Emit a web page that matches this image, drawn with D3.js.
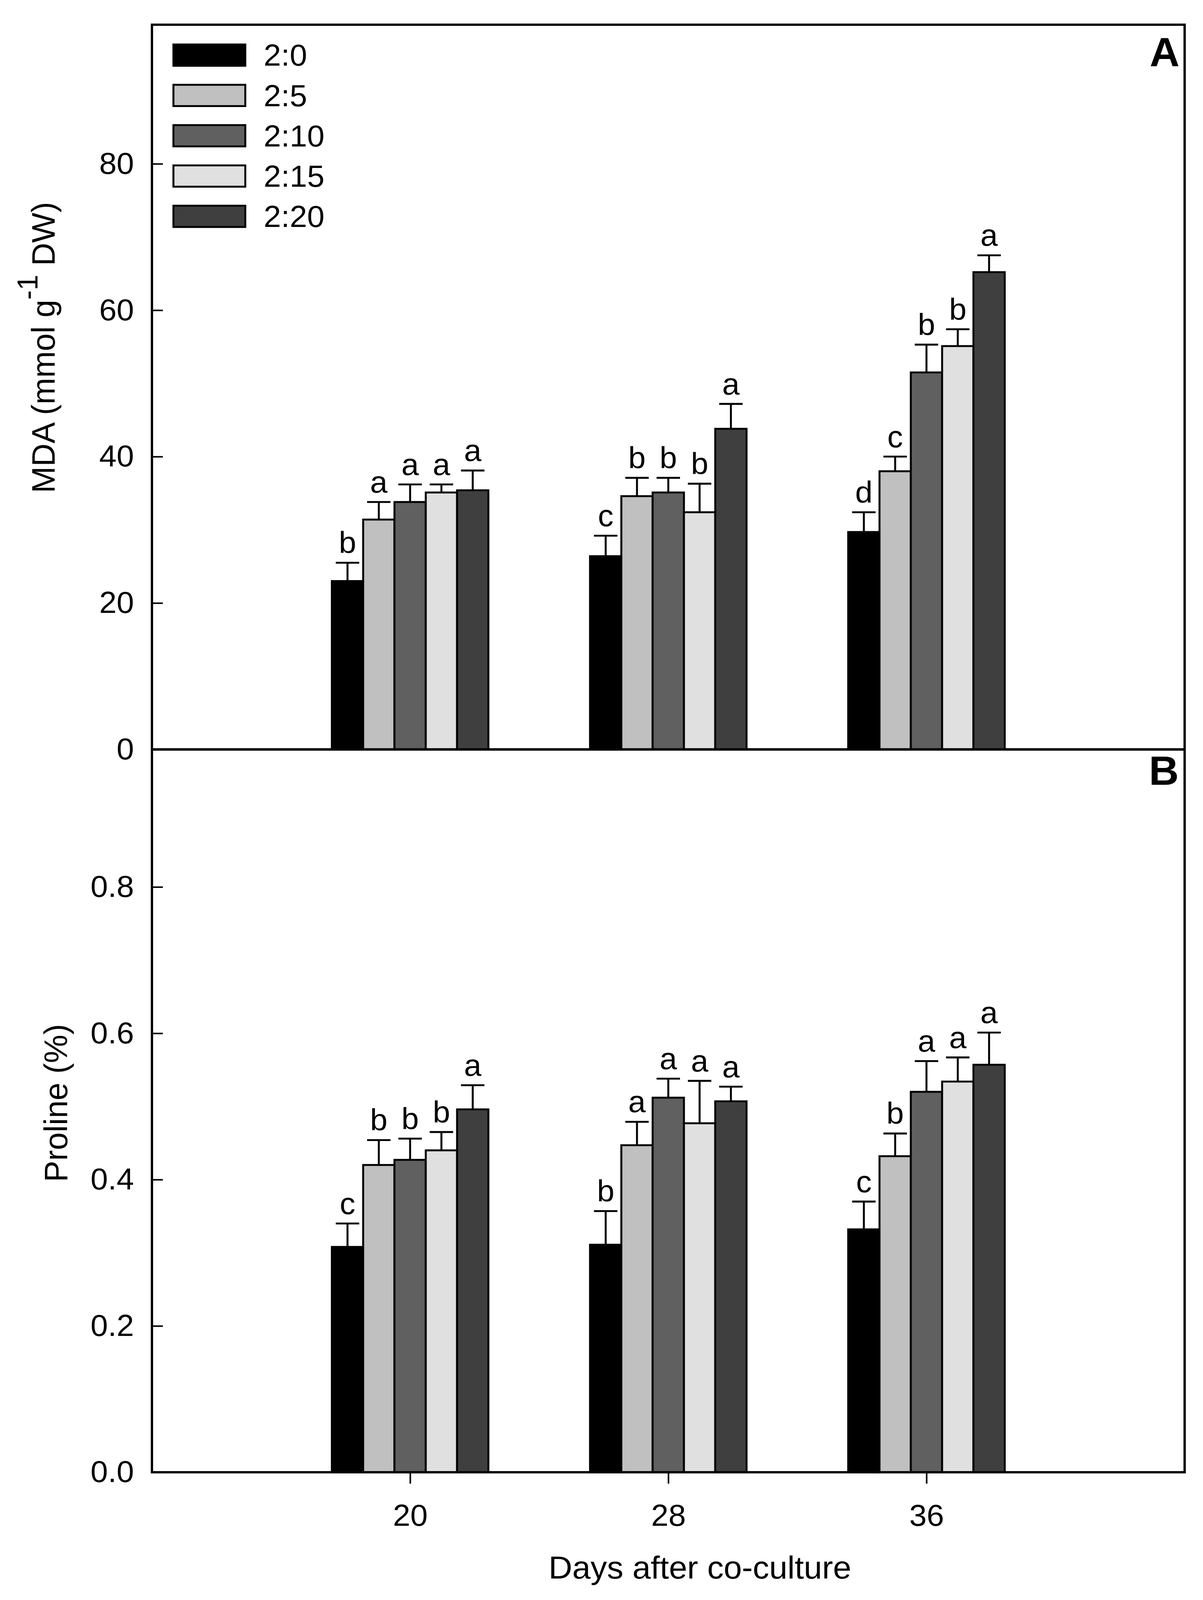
<!DOCTYPE html>
<html>
<head>
<meta charset="utf-8">
<script src="https://cdn.jsdelivr.net/npm/d3@7"></script>
<style>
  html, body { margin: 0; padding: 0; background: #fff; overflow: hidden; width: 100%; height: 100%; }
  svg { display: block; width: 100vw; height: 100vh; }
  svg text { font-family: "Liberation Sans", Arial, sans-serif; fill: #000; }
</style>
</head>
<body>
<svg id="chart" viewBox="0 0 3080 4208" preserveAspectRatio="none"></svg>
<script>
// ---------------- data ----------------
const days = [20, 28, 36];
const dayLabels = ["20", "28", "36"];
const ratios = ["2:0", "2:5", "2:10", "2:15", "2:20"];
const colors = ["#000000", "#c0c0c0", "#606060", "#e0e0e0", "#3f3f3f"];

// MDA (per day group, values in ratio order)
const mdaMean = [
  [23.0, 31.4, 33.8, 35.1, 35.4],
  [26.4, 34.6, 35.1, 32.4, 43.8],
  [29.7, 38.0, 51.5, 55.1, 65.2]
];
const mdaErr = [
  [2.5, 2.4, 2.4, 1.1, 2.7],
  [2.8, 2.5, 2.0, 3.9, 3.4],
  [2.7, 2.0, 3.8, 2.3, 2.3]
];
const mdaLetters = [
  ["b", "a", "a", "a", "a"],
  ["c", "b", "b", "b", "a"],
  ["d", "c", "b", "b", "a"]
];

// Proline
const proMean = [
  [0.308, 0.420, 0.427, 0.440, 0.496],
  [0.311, 0.447, 0.512, 0.477, 0.507],
  [0.332, 0.432, 0.520, 0.534, 0.557]
];
const proErr = [
  [0.032, 0.034, 0.029, 0.025, 0.033],
  [0.046, 0.032, 0.026, 0.058, 0.020],
  [0.038, 0.031, 0.042, 0.033, 0.044]
];
const proLetters = [
  ["c", "b", "b", "b", "a"],
  ["b", "a", "a", "a", "a"],
  ["c", "b", "a", "a", "a"]
];

const mdaTicks = [0, 20, 40, 60, 80];
const proTicks = [0, 0.2, 0.4, 0.6, 0.8];

// ---------------- layout ----------------
const svg = d3.select("#chart");
svg.append("rect").attr("width", 3080).attr("height", 4208).attr("fill", "#fff");

const L = 389, R = 3033, T = 65, M = 1971, B = 3872;
const barUnit = 0.97;

const x = d3.scaleLinear().domain([12, 44]).range([L, R]);
const yTop = d3.scaleLinear().domain([0, 99]).range([M, T]);
const yBot = d3.scaleLinear().domain([0, 0.988]).range([B, M]);

function drawPanel(y, means, errs, letters, ticks, fmt) {
  const g = svg.append("g");
  const bw = x(12 + barUnit) - x(12);
  days.forEach((d, gi) => {
    ratios.forEach((r, ri) => {
      const cx = x(d + (ri - 2) * barUnit);
      const v = means[gi][ri], e = errs[gi][ri];
      g.append("line")
        .attr("x1", cx).attr("x2", cx)
        .attr("y1", y(v)).attr("y2", y(v + e))
        .attr("stroke", "#000").attr("stroke-width", 5);
      g.append("line")
        .attr("x1", cx - 30).attr("x2", cx + 30)
        .attr("y1", y(v + e)).attr("y2", y(v + e))
        .attr("stroke", "#000").attr("stroke-width", 5);
      g.append("rect")
        .attr("x", cx - bw / 2).attr("width", bw)
        .attr("y", y(v)).attr("height", y(0) - y(v))
        .attr("fill", colors[ri]).attr("stroke", "#000").attr("stroke-width", 5);
      g.append("text")
        .attr("x", cx).attr("y", y(v + e) - 25)
        .attr("text-anchor", "middle")
        .attr("font-size", 80)
        .text(letters[gi][ri]);
    });
  });
  const ax = svg.append("g").attr("transform", `translate(${L},0)`)
    .call(d3.axisLeft(y).tickValues(ticks).tickFormat(fmt).tickSize(-28).tickPadding(46));
  ax.select(".domain").remove();
  ax.selectAll(".tick line").attr("stroke", "#000").attr("stroke-width", 4);
  ax.selectAll(".tick text").attr("font-size", 80).attr("font-family", "Liberation Sans, Arial, sans-serif").attr("fill", "#000");
}

drawPanel(yTop, mdaMean, mdaErr, mdaLetters, mdaTicks, d3.format("d"));
drawPanel(yBot, proMean, proErr, proLetters, proTicks, d3.format(".1f"));

// frames
svg.append("rect").attr("x", L).attr("y", T).attr("width", R - L).attr("height", M - T)
  .attr("fill", "none").attr("stroke", "#000").attr("stroke-width", 6);
svg.append("rect").attr("x", L).attr("y", M).attr("width", R - L).attr("height", B - M)
  .attr("fill", "none").attr("stroke", "#000").attr("stroke-width", 6);

// x axis (bottom panel)
const xa = svg.append("g").attr("transform", `translate(0,${B})`)
  .call(d3.axisBottom(x).tickValues(days).tickFormat((d, i) => dayLabels[i]).tickSize(30).tickPadding(54));
xa.select(".domain").remove();
xa.selectAll(".tick line").attr("stroke", "#000").attr("stroke-width", 4);
xa.selectAll(".tick text").attr("font-size", 80).attr("font-family", "Liberation Sans, Arial, sans-serif").attr("fill", "#000");

// axis titles
svg.append("text").attr("x", 1792).attr("y", 4152).attr("text-anchor", "middle")
  .attr("font-size", 84).text("Days after co-culture");

const mt = svg.append("text")
  .attr("transform", "translate(140,914) rotate(-90)")
  .attr("text-anchor", "middle").attr("font-size", 84);
mt.append("tspan").text("MDA (mmol g");
mt.append("tspan").attr("dy", -44).attr("font-size", 74).text("-1");
mt.append("tspan").attr("dy", 44).text(" DW)");

svg.append("text")
  .attr("transform", "translate(172,2901) rotate(-90)")
  .attr("text-anchor", "middle").attr("font-size", 84).text("Proline (%)");

// panel labels
svg.append("text").attr("x", 3020).attr("y", 174).attr("text-anchor", "end")
  .attr("font-size", 106).attr("font-weight", "bold").text("A");
svg.append("text").attr("x", 3018).attr("y", 2064).attr("text-anchor", "end")
  .attr("font-size", 106).attr("font-weight", "bold").text("B");

// legend
const lg = svg.append("g");
ratios.forEach((r, i) => {
  const yy = 117 + i * 106;
  lg.append("rect").attr("x", 444).attr("y", yy).attr("width", 184).attr("height", 56)
    .attr("fill", colors[i]).attr("stroke", "#000").attr("stroke-width", 5);
  lg.append("text").attr("x", 675).attr("y", yy + 56).attr("font-size", 80).text(r);
});
</script>
</body>
</html>
